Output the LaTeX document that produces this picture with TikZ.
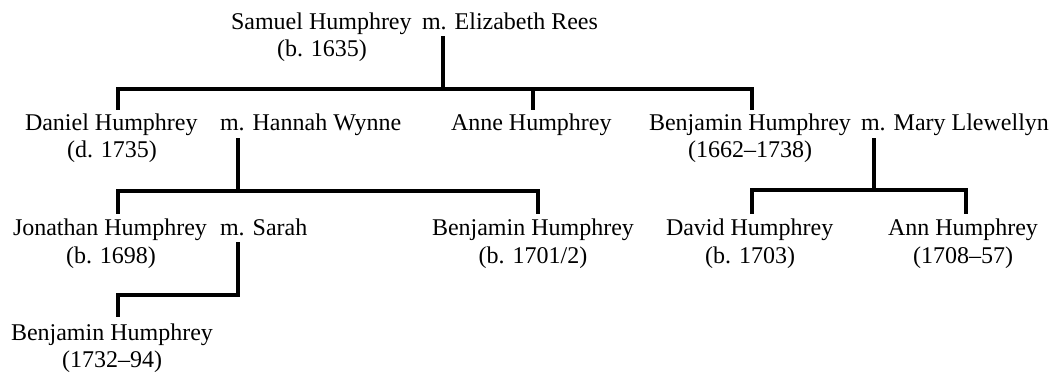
\documentclass[tikz,border=0pt]{standalone}
\usepackage{fontspec}
\setmainfont{Liberation Serif}
\begin{document}
\begin{tikzpicture}[x=1pt,y=-1pt,
  txt/.style={inner sep=0pt,outer sep=0pt,text=black,font=\fontsize{24}{28}\selectfont},
  nm/.style={txt,anchor=base west},
  dt/.style={txt,anchor=base},
  conn/.style={line width=4pt,line join=miter,line cap=rect,black}]
\useasboundingbox (0,0) rectangle (1057,374);
% generation 1
\node[nm] (samuel) at (231,30) {Samuel Humphrey};
\node[dt] (samuelD) at (322,57) {(b. 1635)};
\node[nm] (elizabeth) at (422,30) {m. Elizabeth Rees};
% generation 2
\node[nm] (daniel) at (25,131) {Daniel Humphrey};
\node[dt] (danielD) at (112,158) {(d. 1735)};
\node[nm] (hannah) at (220,131) {m. Hannah Wynne};
\node[nm] (anne) at (451,131) {Anne Humphrey};
\node[nm] (benjA) at (649,131) {Benjamin Humphrey};
\node[dt] (benjAD) at (750,158) {(1662–1738)};
\node[nm] (mary) at (861,131) {m. Mary Llewellyn};
% generation 3
\node[nm] (jonathan) at (13,236) {Jonathan Humphrey};
\node[dt] (jonathanD) at (111,263) {(b. 1698)};
\node[nm] (sarah) at (220,236) {m. Sarah};
\node[nm] (benjB) at (432,236) {Benjamin Humphrey};
\node[dt] (benjBD) at (533,263) {(b. 1701/2)};
\node[nm] (david) at (666,236) {David Humphrey};
\node[dt] (davidD) at (750,263) {(b. 1703)};
\node[nm] (ann) at (888,236) {Ann Humphrey};
\node[dt] (annD) at (963,263) {(1708–57)};
% generation 4
\node[nm] (benjC) at (11,340) {Benjamin Humphrey};
\node[dt] (benjCD) at (112,367) {(1732–94)};
% junction coordinates
\coordinate (eTop) at (443,38);
\coordinate (eBar) at (443,89);
\coordinate (danielTop) at (118,108);
\coordinate (anneTop) at (533,108);
\coordinate (benjATop) at (752,108);
\coordinate (hTop) at (238,140);
\coordinate (hBar) at (238,191);
\coordinate (jonathanTop) at (118,212);
\coordinate (benjBTop) at (538,212);
\coordinate (mTop) at (874,140);
\coordinate (mBar) at (874,190);
\coordinate (davidTop) at (752,212);
\coordinate (annTop) at (966,212);
\coordinate (sTop) at (238,244);
\coordinate (sBar) at (238,295);
\coordinate (benjCTop) at (118,315);
% connectors
\draw[conn] (eTop) -- (eBar);
\draw[conn] (danielTop) -- (danielTop |- eBar) -- (benjATop |- eBar) -- (benjATop);
\draw[conn] (anneTop) -- (anneTop |- eBar);
\draw[conn] (hTop) -- (hBar);
\draw[conn] (jonathanTop) -- (jonathanTop |- hBar) -- (benjBTop |- hBar) -- (benjBTop);
\draw[conn] (mTop) -- (mBar);
\draw[conn] (davidTop) -- (davidTop |- mBar) -- (annTop |- mBar) -- (annTop);
\draw[conn] (sTop) -- (sBar) -- (benjCTop |- sBar) -- (benjCTop);
\end{tikzpicture}
\end{document}
